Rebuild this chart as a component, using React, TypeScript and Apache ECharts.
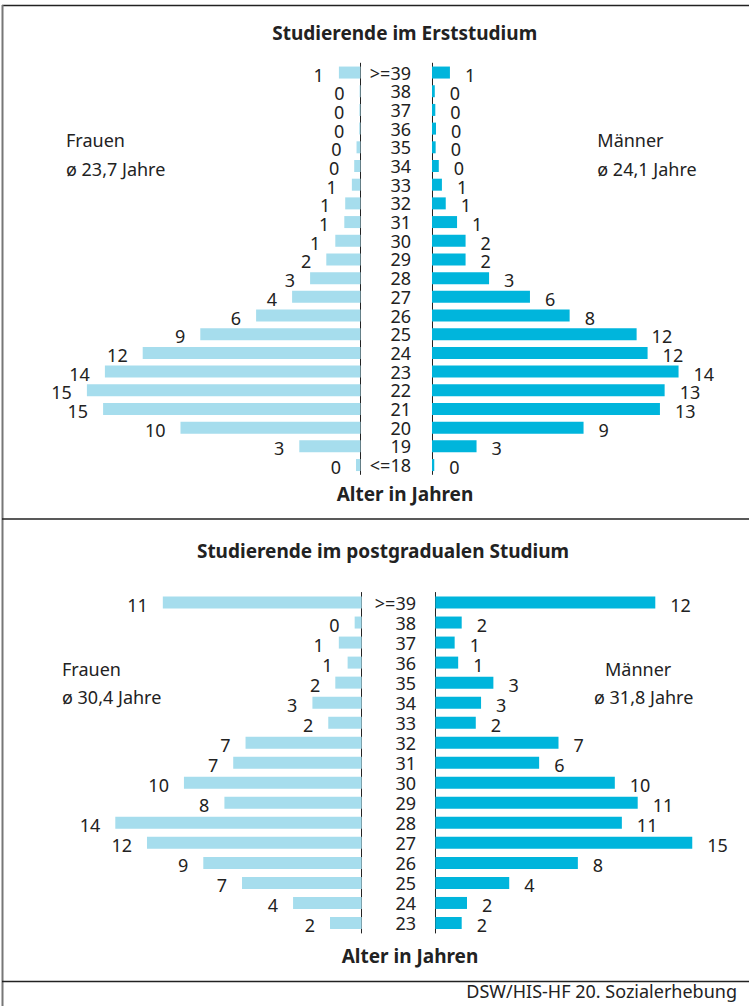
import React, { useEffect, useRef } from "react";
import * as echarts from "echarts";

// ---------- Data ----------
const catsErst = [">=39", "38", "37", "36", "35", "34", "33", "32", "31", "30", "29", "28", "27", "26", "25", "24", "23", "22", "21", "20", "19", "<=18"];
const frauenErst = [1.2, 0.05, 0.06, 0.07, 0.22, 0.35, 0.48, 0.85, 0.9, 1.4, 1.9, 2.8, 3.8, 5.8, 8.9, 12.1, 14.2, 15.2, 14.3, 10.0, 3.4, 0.25];
const frauenErstLabels = [1, 0, 0, 0, 0, 0, 1, 1, 1, 1, 2, 3, 4, 6, 9, 12, 14, 15, 15, 10, 3, 0];
const maennerErst = [1.03, 0.16, 0.19, 0.23, 0.21, 0.39, 0.57, 0.79, 1.44, 1.93, 1.93, 3.28, 5.63, 7.91, 11.76, 12.39, 14.17, 13.37, 13.1, 8.71, 2.56, 0.13];
const maennerErstLabels = [1, 0, 0, 0, 0, 0, 1, 1, 1, 2, 2, 3, 6, 8, 12, 12, 14, 13, 13, 9, 3, 0];

const catsPost = [">=39", "38", "37", "36", "35", "34", "33", "32", "31", "30", "29", "28", "27", "26", "25", "24", "23"];
const frauenPost = [11.3, 0.4, 1.3, 0.8, 1.5, 2.8, 1.9, 6.6, 7.3, 10.1, 7.8, 14.0, 12.2, 9.0, 6.8, 3.9, 1.8];
const frauenPostLabels = [11, 0, 1, 1, 2, 3, 2, 7, 7, 10, 8, 14, 12, 9, 7, 4, 2];
const maennerPost = [12.5, 1.5, 1.1, 1.3, 3.3, 2.6, 2.3, 7.0, 5.9, 10.2, 11.5, 10.6, 14.6, 8.1, 4.2, 1.8, 1.5];
const maennerPostLabels = [12, 2, 1, 1, 3, 3, 2, 7, 6, 10, 11, 11, 15, 8, 4, 2, 2];

const FONT = "'Noto Sans', 'DejaVu Sans', sans-serif";
const TXT = "#222222";
const C_F = "#a6dded";
const C_M = "#00b5dc";
const FS = 18;

export default function App() {
  const ref = useRef<HTMLDivElement>(null);

  useEffect(() => {
    if (!ref.current) return;
    const chart = echarts.init(ref.current, undefined, { renderer: "svg" });

    const xMax = 16;
    const grids = [
      { left: 360.5 - xMax * 18, width: xMax * 18, top: 63.2, height: 411.2 },
      { left: 432, width: xMax * 17.4, top: 63.2, height: 411.2 },
      { left: 361.7 - xMax * 17.6, width: xMax * 17.6, top: 592.5, height: 340.5 },
      { left: 435.3, width: xMax * 17.6, top: 592.5, height: 340.5 },
    ].map((g) => ({ ...g, outerBoundsMode: "none", containLabel: false }));

    const xAxes = [0, 1, 2, 3].map((i) => ({
      type: "value",
      gridIndex: i,
      min: 0,
      max: xMax,
      inverse: i % 2 === 0,
      show: false,
    }));

    const axisLine = { show: true, lineStyle: { color: TXT, width: 1 } };
    const mkY = (i: number, cats: string[], margin: number) => ({
      type: "category",
      gridIndex: i,
      data: cats,
      inverse: true,
      position: i % 2 === 0 ? "right" : "left",
      axisLine,
      axisTick: { show: false },
      splitLine: { show: false },
      axisLabel:
        i % 2 === 0
          ? {
              show: true,
              interval: 0,
              align: "right",
              margin,
              fontFamily: FONT,
              fontSize: FS,
              lineHeight: 18,
              color: TXT,
            }
          : { show: false },
    });
    const yAxes = [
      mkY(0, catsErst, 50.5),
      mkY(1, catsErst, 0),
      mkY(2, catsPost, 54.3),
      mkY(3, catsPost, 0),
    ];

    const mkSeries = (i: number, data: number[], labels: number[], color: string) => ({
      type: "bar",
      xAxisIndex: i,
      yAxisIndex: i,
      data,
      barWidth: 12,
      itemStyle: { color },
      label: {
        show: true,
        position: i % 2 === 0 ? "left" : "right",
        distance: 15,
        offset: [0, 2],
        fontFamily: FONT,
        fontSize: FS,
        lineHeight: 18,
        color: TXT,
        formatter: (p: any) => String(labels[p.dataIndex]),
      },
    });

    const series = [
      mkSeries(0, frauenErst, frauenErstLabels, C_F),
      mkSeries(1, maennerErst, maennerErstLabels, C_M),
      mkSeries(2, frauenPost, frauenPostLabels, C_F),
      mkSeries(3, maennerPost, maennerPostLabels, C_M),
    ];

    const txt = (x: number, y: number, text: string, opts: any = {}) => ({
      type: "text",
      x,
      y,
      silent: true,
      style: {
        text,
        fill: TXT,
        font: `${opts.bold ? "bold " : ""}${opts.size || FS}px ${FONT}`,
        textAlign: opts.align || "left",
        textVerticalAlign: "middle",
      },
    });
    const ln = (x1: number, y1: number, x2: number, y2: number, stroke: string, w: number) => ({
      type: "line",
      silent: true,
      shape: { x1, y1, x2, y2 },
      style: { stroke, lineWidth: w },
    });

    const graphic = [
      ln(2, 5.5, 749, 5.5, "#222", 1.5),
      ln(2.5, 5, 2.5, 1006, "#777", 2),
      ln(2, 519, 749, 519, "#222", 1.5),
      ln(2, 981.5, 749, 981.5, "#222", 1.5),
      txt(404.7, 32.7, "Studierende im Erststudium", { bold: true, align: "center", size: 19 }),
      txt(66, 140, "Frauen"),
      txt(66, 168.6, "ø 23,7 Jahre"),
      txt(597.3, 140, "Männer"),
      txt(597.3, 168.6, "ø 24,1 Jahre"),
      txt(405, 493.5, "Alter in Jahren", { bold: true, align: "center", size: 19 }),
      txt(383, 551, "Studierende im postgradualen Studium", { bold: true, align: "center", size: 19 }),
      txt(62, 669, "Frauen"),
      txt(62, 696.6, "ø 30,4 Jahre"),
      txt(605, 669, "Männer"),
      txt(594, 696.6, "ø 31,8 Jahre"),
      txt(410, 955.5, "Alter in Jahren", { bold: true, align: "center", size: 19 }),
      txt(737, 991, "DSW/HIS-HF 20. Sozialerhebung", { align: "right" }),
    ];

    chart.setOption({
      animation: false,
      backgroundColor: "#ffffff",
      textStyle: { fontFamily: FONT },
      grid: grids,
      xAxis: xAxes,
      yAxis: yAxes,
      series,
      graphic,
    } as any);

    return () => chart.dispose();
  }, []);

  return (
    <div
      ref={ref}
      style={{ position: "absolute", left: 0, top: 0, width: 749, height: 1006 }}
    />
  );
}
